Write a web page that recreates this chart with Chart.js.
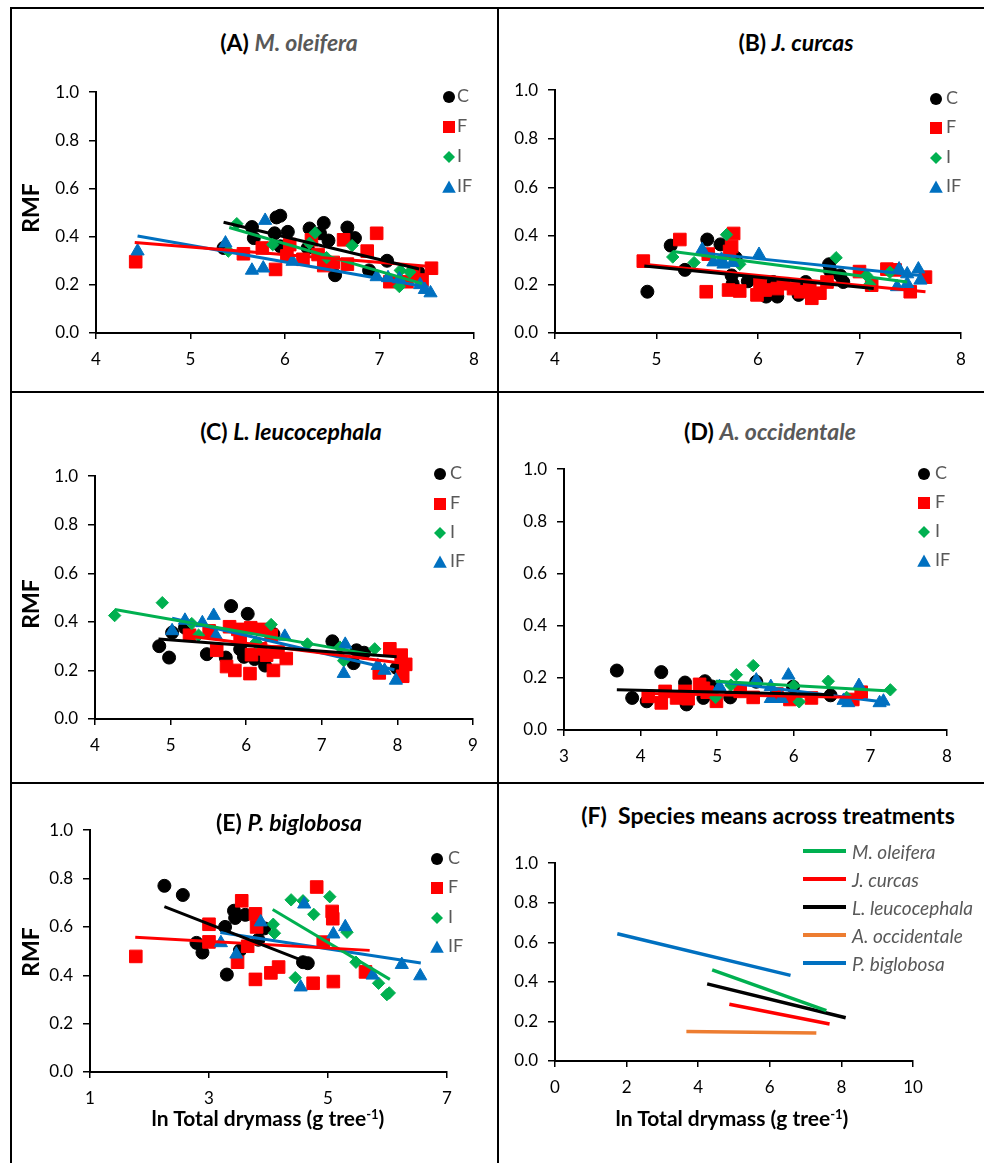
<!DOCTYPE html>
<html><head><meta charset="utf-8">
<script src="https://cdn.jsdelivr.net/npm/chart.js@4.4.0/dist/chart.umd.min.js"></script>
<style>
body{margin:0;width:984px;height:1163px;position:relative;background:#fff;font-family:Lato,'DejaVu Sans',sans-serif;overflow:hidden}
.ln{position:absolute;background:#000}
canvas{position:absolute}
.t{position:absolute;white-space:nowrap;font-weight:bold;font-size:23px;color:#000;transform:translate(-50%,-50%);line-height:1}
.g{color:#595959;font-style:italic}
.lgt{position:absolute;font-size:18px;color:#595959;transform:translateY(-50%);line-height:1}
.lgm{position:absolute}
.rot{transform:translate(-50%,-50%) rotate(-90deg);font-size:23px}
.xt{font-size:21px}
.xt sup{font-size:13px;vertical-align:7px;line-height:0}
.fl{position:absolute;height:3.5px}
.flt{position:absolute;font-size:19px;color:#595959;font-style:italic;transform:translateY(-50%);line-height:1}
</style></head>
<body>
<div class="ln" style="left:10px;top:7px;width:974px;height:2px"></div>
<div class="ln" style="left:10px;top:7px;width:2px;height:1156px"></div>
<div class="ln" style="left:497px;top:7px;width:2px;height:1156px"></div>
<div class="ln" style="left:10px;top:391px;width:974px;height:2px"></div>
<div class="ln" style="left:10px;top:782px;width:974px;height:2px"></div>
<script>
// ===== DATA =====
const treatments = ['C','F','I','IF'];
// (A) M. oleifera
const A_C = [[5.35,0.353],[5.65,0.44],[5.67,0.394],[5.91,0.48],[5.95,0.487],[5.89,0.414],[6.03,0.42],[5.95,0.36],[6.26,0.434],[6.41,0.457],[6.37,0.414],[6.46,0.384],[6.24,0.353],[6.53,0.24],[6.66,0.438],[6.74,0.394],[6.89,0.26],[7.08,0.30],[7.41,0.253]];
const A_F = [[4.42,0.296],[5.56,0.329],[5.76,0.353],[5.90,0.264],[6.05,0.367],[6.02,0.32],[6.19,0.306],[6.28,0.387],[6.35,0.326],[6.41,0.28],[6.51,0.293],[6.62,0.387],[6.66,0.286],[6.87,0.34],[6.97,0.414],[7.11,0.213],[7.29,0.213],[7.36,0.246],[7.55,0.269],[7.45,0.22]];
const A_I = [[5.40,0.34],[5.49,0.454],[5.87,0.367],[6.32,0.416],[6.26,0.373],[6.44,0.313],[6.71,0.363],[7.22,0.26],[7.21,0.193],[7.32,0.253]];
const A_IF = [[4.44,0.34],[5.37,0.373],[5.65,0.26],[5.77,0.269],[5.79,0.467],[6.08,0.297],[6.97,0.233],[7.09,0.229],[7.21,0.224],[7.43,0.20],[7.48,0.18],[7.54,0.166]];
const A_fitC = [[5.35,0.46],[7.42,0.266]];
const A_fitF = [[4.41,0.376],[7.54,0.276]];
const A_fitI = [[5.41,0.438],[7.45,0.205]];
const A_fitIF = [[4.44,0.403],[7.52,0.19]];
// (B) J. curcas
const B_C = [[4.91,0.17],[5.14,0.36],[5.28,0.26],[5.50,0.385],[5.63,0.365],[5.78,0.31],[5.74,0.237],[5.90,0.213],[5.75,0.203],[6.08,0.15],[6.19,0.15],[6.15,0.21],[6.40,0.157],[6.47,0.21],[6.70,0.283],[6.71,0.256],[6.81,0.237],[6.84,0.21]];
const B_F = [[4.87,0.296],[5.23,0.385],[5.51,0.325],[5.49,0.17],[5.76,0.41],[5.74,0.356],[5.72,0.336],[5.71,0.177],[5.82,0.173],[5.99,0.157],[6.02,0.203],[6.07,0.177],[6.19,0.183],[6.25,0.203],[6.35,0.183],[6.42,0.17],[6.53,0.143],[6.51,0.183],[6.61,0.164],[6.68,0.21],[7.00,0.253],[7.12,0.197],[7.27,0.263],[7.35,0.26],[7.50,0.17],[7.65,0.23]];
const B_I = [[5.16,0.313],[5.37,0.29],[5.69,0.405],[5.82,0.283],[6.77,0.31],[7.07,0.237],[7.10,0.2],[7.30,0.25]];
const B_IF = [[5.45,0.343],[5.56,0.292],[5.64,0.303],[5.66,0.283],[5.75,0.29],[6.01,0.323],[7.39,0.263],[7.37,0.19],[7.47,0.243],[7.47,0.203],[7.58,0.263],[7.60,0.217]];
const B_fitC = [[4.88,0.276],[7.14,0.183]];
const B_fitF = [[4.87,0.283],[7.65,0.17]];
const B_fitI = [[5.16,0.336],[7.47,0.21]];
const B_fitIF = [[5.45,0.33],[7.60,0.237]];
// (C) L. leucocephala
const C_C = [[4.85,0.30],[4.98,0.253],[5.02,0.356],[5.19,0.376],[5.48,0.267],[5.73,0.253],[5.80,0.465],[5.92,0.287],[5.97,0.256],[6.02,0.433],[6.11,0.247],[6.25,0.22],[6.36,0.35],[7.14,0.32],[7.46,0.283],[7.42,0.23],[7.56,0.273],[7.99,0.21]];
const C_F = [[5.25,0.345],[5.51,0.363],[5.61,0.283],[5.74,0.216],[5.85,0.20],[5.78,0.38],[5.89,0.369],[5.92,0.329],[6.05,0.187],[6.06,0.376],[6.07,0.265],[6.22,0.369],[6.19,0.289],[6.27,0.263],[6.33,0.345],[6.36,0.20],[6.42,0.276],[6.53,0.249],[7.76,0.19],[7.90,0.289],[8.05,0.263],[8.11,0.225],[8.07,0.176]];
const C_I = [[4.26,0.426],[4.89,0.479],[5.28,0.393],[5.37,0.345],[6.13,0.316],[6.33,0.389],[6.81,0.309],[7.24,0.296],[7.29,0.24],[7.70,0.289]];
const C_IF = [[5.02,0.363],[5.19,0.406],[5.42,0.396],[5.57,0.426],[5.60,0.343],[6.51,0.34],[7.31,0.307],[7.29,0.187],[7.74,0.22],[7.83,0.20],[7.98,0.159]];
const C_fitC = [[4.84,0.329],[7.99,0.256]];
const C_fitF = [[5.21,0.343],[8.07,0.23]];
const C_fitI = [[4.26,0.451],[7.70,0.263]];
const C_fitIF = [[5.02,0.415],[7.96,0.203]];
// (D) A. occidentale
const D_C = [[3.69,0.228],[3.89,0.123],[4.08,0.11],[4.27,0.222],[4.58,0.182],[4.60,0.098],[4.82,0.123],[4.84,0.187],[4.93,0.167],[5.17,0.125],[5.51,0.185],[5.99,0.166],[6.48,0.133]];
const D_F = [[4.10,0.129],[4.27,0.104],[4.32,0.148],[4.47,0.123],[4.58,0.148],[4.62,0.12],[4.77,0.175],[4.82,0.16],[4.87,0.145],[4.99,0.11],[5.30,0.148],[5.47,0.125],[5.78,0.138],[5.95,0.117],[6.23,0.123],[6.77,0.117],[6.88,0.145]];
const D_I = [[4.98,0.125],[5.18,0.172],[5.25,0.212],[5.47,0.247],[6.00,0.17],[6.07,0.108],[6.45,0.187],[6.69,0.125],[7.26,0.154]];
const D_IF = [[5.03,0.166],[5.51,0.191],[5.70,0.12],[5.70,0.166],[5.84,0.12],[5.93,0.21],[6.65,0.113],[6.71,0.104],[6.85,0.17],[7.12,0.104],[7.17,0.11]];
const D_fitC = [[3.69,0.154],[6.52,0.135]];
const D_fitF = [[4.10,0.14],[6.91,0.125]];
const D_fitI = [[4.98,0.187],[7.26,0.15]];
const D_fitIF = [[4.99,0.187],[7.15,0.108]];
// (E) P. biglobosa
const E_C = [[2.25,0.77],[2.56,0.732],[2.79,0.534],[2.89,0.494],[3.27,0.60],[3.42,0.667],[3.44,0.637],[3.61,0.65],[3.93,0.594],[3.83,0.547],[3.30,0.403],[3.52,0.503],[4.58,0.454],[4.66,0.45]];
const E_F = [[1.77,0.478],[3.00,0.538],[3.00,0.611],[3.55,0.708],[3.78,0.654],[3.80,0.60],[3.65,0.52],[3.48,0.454],[3.78,0.383],[4.04,0.41],[4.17,0.434],[4.75,0.367],[4.81,0.765],[5.07,0.664],[5.08,0.634],[4.92,0.537],[5.09,0.374],[5.63,0.414]];
const E_I = [[4.08,0.611],[4.10,0.574],[4.38,0.712],[4.58,0.708],[4.45,0.39],[4.76,0.652],[5.03,0.725],[5.32,0.578],[5.47,0.454],[5.85,0.367],[5.99,0.32],[6.03,0.327]];
const E_IF = [[3.87,0.62],[3.20,0.534],[3.46,0.487],[4.60,0.694],[4.54,0.351],[5.09,0.57],[5.29,0.60],[5.75,0.40],[6.24,0.444],[6.55,0.397]];
const E_fitC = [[2.25,0.684],[4.64,0.454]];
const E_fitF = [[1.76,0.557],[5.70,0.503]];
const E_fitI = [[4.07,0.672],[6.04,0.383]];
const E_fitIF = [[3.19,0.577],[6.56,0.451]];
// (F) species means
const speciesNames = ['M. oleifera','J. curcas','L. leucocephala','A. occidentale','P. biglobosa'];
const F_mo = [[4.39,0.461],[7.58,0.255]];
const F_jc = [[4.87,0.287],[7.67,0.187]];
const F_ll = [[4.25,0.39],[8.12,0.219]];
const F_ao = [[3.67,0.149],[7.30,0.141]];
const F_pb = [[1.74,0.643],[6.58,0.433]];
const yTicks = [0,0.2,0.4,0.6,0.8,1.0];

// ===== STYLE =====
const COL = {C:'#000000',F:'#FF0000',I:'#00B050',IF:'#0070C0'};
const PST = {C:['circle',6.5],F:['rect',8.9],I:['rectRot',6.2],IF:['triangle',7.6]};
const spColors = ['#00B050','#FF0000','#000000','#ED7D31','#0070C0'];
const toXY = a => a.map(p => ({x:p[0], y:p[1]}));

function pts(arr, t){
  return {data:toXY(arr), backgroundColor:COL[t], borderColor:COL[t], borderWidth:1,
    pointStyle:PST[t][0], pointRadius:PST[t][1], pointHoverRadius:PST[t][1], showLine:false,
    order: {C:4,F:3,I:2,IF:1}[t]};
}
function fit(arr, color, w){
  return {data:toXY(arr), borderColor:color, backgroundColor:color, borderWidth:w||3,
    showLine:true, pointRadius:0, pointHoverRadius:0, order:0, fill:false};
}
function mk(spec, datasets){
  const c = document.createElement('canvas');
  const W = spec.r-spec.l+90, H = spec.b-spec.t+57;
  c.width = W; c.height = H;
  c.style.left = (spec.l-70)+'px'; c.style.top = (spec.t-12)+'px';
  document.body.appendChild(c);
  const font = {family:'Lato', size:17};
  new Chart(c, {type:'scatter', data:{datasets}, options:{
    responsive:false, animation:false, devicePixelRatio:1,
    layout:{padding:{left:0, top:12, right:20, bottom:0}},
    plugins:{legend:{display:false}, tooltip:{enabled:false}, title:{display:false}},
    scales:{
      x:{type:'linear', min:spec.xmin, max:spec.xmax,
        ticks:{stepSize:spec.step, color:'#000', font, padding:10, maxRotation:0, autoSkip:false},
        grid:{drawOnChartArea:false, drawTicks:true, tickLength:6, color:'#000', lineWidth:1.5},
        border:{display:true, color:'#000', width:2},
        afterFit(s){ s.height = 45; }},
      y:{type:'linear', min:0, max:1,
        afterBuildTicks(s){ s.ticks = yTicks.map(v=>({value:v})); },
        ticks:{color:'#000', font, padding:10, callback:v=>Number(v).toFixed(1)},
        grid:{drawOnChartArea:false, drawTicks:true, tickLength:7, color:'#000', lineWidth:1.5},
        border:{display:true, color:'#000', width:2},
        afterFit(s){ s.width = 70; }}
    }}});
}
function panel(spec, C, F, I, IF, fC, fF, fI, fIF){
  mk(spec, [fit(fC,COL.C), fit(fF,COL.F), fit(fI,COL.I), fit(fIF,COL.IF),
            pts(C,'C'), pts(F,'F'), pts(I,'I'), pts(IF,'IF')]);
}
panel({l:96,t:84,r:474,b:333,xmin:4,xmax:8,step:1}, A_C,A_F,A_I,A_IF,A_fitC,A_fitF,A_fitI,A_fitIF);
panel({l:555,t:82,r:961,b:333,xmin:4,xmax:8,step:1}, B_C,B_F,B_I,B_IF,B_fitC,B_fitF,B_fitI,B_fitIF);
panel({l:95,t:468,r:473,b:719,xmin:4,xmax:9,step:1}, C_C,C_F,C_I,C_IF,C_fitC,C_fitF,C_fitI,C_fitIF);
panel({l:564,t:461,r:947,b:730,xmin:3,xmax:8,step:1}, D_C,D_F,D_I,D_IF,D_fitC,D_fitF,D_fitI,D_fitIF);
panel({l:90,t:822,r:447,b:1072,xmin:1,xmax:7,step:2}, E_C,E_F,E_I,E_IF,E_fitC,E_fitF,E_fitI,E_fitIF);
mk({l:555,t:855,r:913,b:1061,xmin:0,xmax:10,step:2},
   [F_mo,F_jc,F_ll,F_ao,F_pb].map((a,i)=>fit(a, spColors[i], 3.5)));

// ===== TEXT =====
function div(cls, html, x, y, style){
  const d = document.createElement('div'); d.className = cls; d.innerHTML = html;
  d.style.left = x+'px'; d.style.top = y+'px'; if (style) d.style.cssText += style;
  document.body.appendChild(d); return d;
}
div('t','(A) <span class="g">M. oleifera</span>',289,42);
div('t','(B) <i>J. curcas</i>',796,42);
div('t','(C) <i>L. leucocephala</i>',291,431);
div('t','(D) <span class="g">A. occidentale</span>',770,431);
div('t','(E) <i>P. biglobosa</i>',289,822);
div('t','(F)&nbsp; Species means across treatments',768,815);
[208,604,952].forEach(y=>div('t rot','RMF',30,y));
div('t xt','ln Total drymass (g tree<sup>-1</sup>)',268,1117);
div('t xt','ln Total drymass (g tree<sup>-1</sup>)',732,1117);

function marker(t){
  const c = COL[t];
  if (t==='C') return `<svg width="14" height="14"><circle cx="7" cy="7" r="6" fill="${c}"/></svg>`;
  if (t==='F') return `<svg width="14" height="14"><rect x="1" y="1" width="12" height="12" fill="${c}"/></svg>`;
  if (t==='I') return `<svg width="14" height="14"><polygon points="7,1 13,7 7,13 1,7" fill="${c}"/></svg>`;
  return `<svg width="14" height="14"><polygon points="7,0.5 13.8,12.8 0.2,12.8" fill="${c}"/></svg>`;
}
function legend(mx, ys, tx){
  treatments.forEach((t,i)=>{
    div('lgm', marker(t), mx-7, ys[i]-7);
    div('lgt', t, tx, ys[i]);
  });
}
legend(449,[95,125,155,185],457);
legend(936,[97,126,156,185],946);
legend(440,[472,502,531,560],450);
legend(924,[472,501,530,559],935);
legend(437,[857,886,916,945],448);
[851,879,907,935,963].forEach((y,i)=>{
  div('fl','',803,y-1.75,'width:43px;background:'+spColors[i]);
  div('flt',speciesNames[i],852,y);
});
</script>
</body></html>
